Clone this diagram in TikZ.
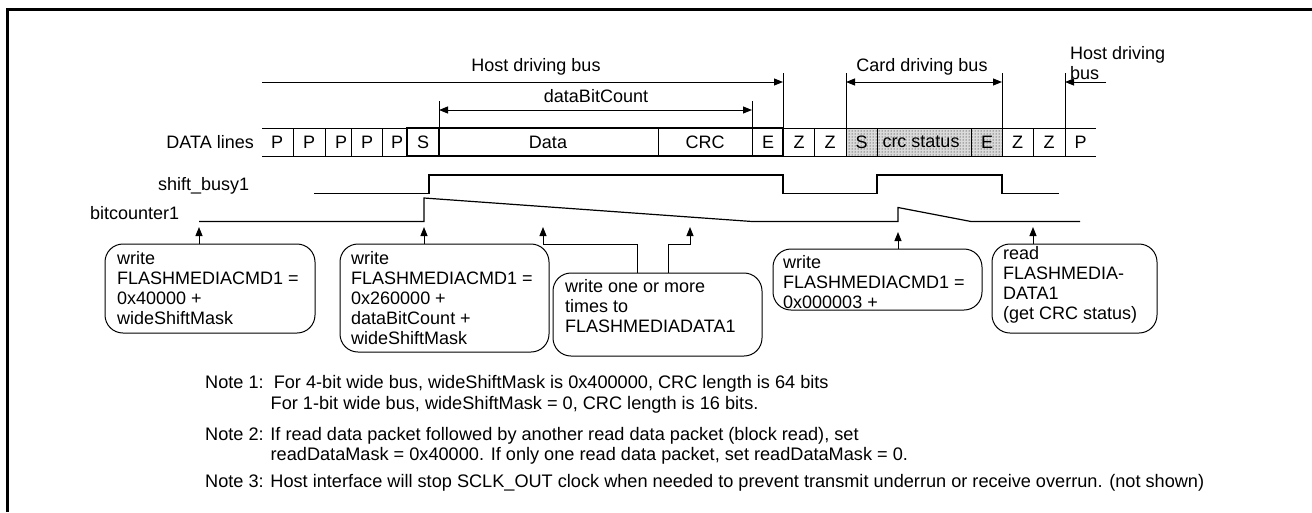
\documentclass[tikz,border=0pt]{standalone}
\usepackage{fontspec}
\setmainfont{Liberation Sans}
\usetikzlibrary{arrows.meta,patterns}
\tikzset{
  label text/.style={inner sep=0pt,font=\fontsize{18}{20}\selectfont},
  cell/.style={inner sep=0pt,font=\fontsize{18}{20}\selectfont},
  callout/.style={draw,line width=1pt,rounded corners=18pt},
  callout text/.style={inner sep=0pt,anchor=north west,align=left,font=\fontsize{18}{20}\selectfont},
  note text/.style={inner sep=0pt,anchor=base west,font=\fontsize{18.15}{20}\selectfont},
  wave/.style={line width=1.2pt},
  tick/.style={line width=1pt},
  flow/.style={line width=1pt,-{Triangle[length=9pt,width=7pt]}},
  span/.style={line width=1pt,{Triangle[length=9pt,width=7pt]}-{Triangle[length=9pt,width=7pt]}}
}
\begin{document}
\begin{tikzpicture}[x=1pt,y=-1pt]
\useasboundingbox (0,0) rectangle (1312,512);
\draw[line width=3pt] (7.5,512) -- (7.5,9.5) -- (1312,9.5);
% DATA lines row
\fill[black!14] (846,128) rectangle (1002,156);
\fill[pattern=dots,pattern color=black] (846,128) rectangle (1002,156);
\draw[line width=1pt] (262,128) -- (1096,128) (262,156) -- (1096,156);
\foreach \x in {293,325,351,382,407,439,658,752,783,814,846,877,971,1002,1033,1065}
  \draw[line width=1pt] (\x,128) -- (\x,156);
\draw[line width=2pt] (407,128) rectangle (783,156);
\draw[line width=2pt] (439,128) -- (439,156);
\node[label text,anchor=east] (datalines) at (254,142) {DATA lines};
\foreach \n/\x/\t in {p1/277/P,p2/309/P,p3/341/P,p4/367/P,p5/397/P,s1/423/S,data/548/Data,crc/705/CRC,e1/768/E,z1/799/Z,z2/830/Z,s2/861.5/S,status/921/crc status,e2/987/E,z3/1017.5/Z,z4/1049/Z,p6/1080.5/P}
  \node[cell] (\n) at (\x,142) {\t};
% spans
\coordinate (hostA) at (262,82);
\coordinate (hostB) at (783,82);
\draw[flow] (hostA) -- (hostB);
\node[label text] (hostbus) at (536,67) {Host driving bus};
\draw[tick] (783,73) -- (783,128);
\draw[tick] (439,101) -- (439,128);
\draw[tick] (752,101) -- (752,128);
\coordinate (bitA) at (439,110);
\coordinate (bitB) at (752,110);
\draw[span] (bitA) -- (bitB);
\node[label text] (bitcount) at (596,96) {dataBitCount};
\draw[tick] (846,73) -- (846,128);
\draw[tick] (1002,73) -- (1002,128);
\draw[tick] (1065,73) -- (1065,128);
\coordinate (cardA) at (846,82);
\coordinate (cardB) at (1002,82);
\draw[span] (cardA) -- (cardB);
\node[label text] (cardbus) at (922,67) {Card driving bus};
\coordinate (lastA) at (1106,82);
\coordinate (lastB) at (1065,82);
\draw[flow] (lastA) -- (lastB);
\node[label text,anchor=north west,align=left] (lastbus) at (1070,46) {Host driving\\bus};
% waves
\node[label text,anchor=west] (busy) at (158,186) {shift\_busy1};
\node[label text,anchor=west] (counter) at (90,213) {bitcounter1};
\draw[wave] (314,193.5) -- (429,193.5) -- (429,175) -- (783,175) -- (783,193.5) -- (877,193.5) -- (877,175) -- (1002,175) -- (1002,193.5) -- (1059,193.5);
\draw[wave] (199,221.5) -- (424,221.5) -- (424,198) -- (752,221.5) -- (898,221.5) -- (898,207.5) -- (971,221.5) -- (1080,221.5);
% callouts
\node[callout,minimum width=210pt,minimum height=89pt] (boxa) at (210,288.5) {};
\node[callout,minimum width=209pt,minimum height=108pt] (boxb) at (444.5,298) {};
\node[callout,minimum width=209pt,minimum height=83pt] (boxc) at (657.5,314.5) {};
\node[callout,minimum width=209pt,minimum height=61pt] (boxd) at (877.5,279.5) {};
\node[callout,minimum width=165pt,minimum height=89pt] (boxe) at (1074.5,288.5) {};
\node[callout text] (texta) at (117,251) {write\\FLASHMEDIACMD1 =\\0x40000 +\\wideShiftMask};
\node[callout text] (textb) at (351,251) {write\\FLASHMEDIACMD1 =\\0x260000 +\\dataBitCount +\\wideShiftMask};
\node[callout text] (textc) at (565,279) {write one or more\\times to\\FLASHMEDIADATA1};
\node[callout text] (textd) at (783,255) {write\\FLASHMEDIACMD1 =\\0x000003 +};
\node[callout text] (texte) at (1003,246) {read\\FLASHMEDIA-\\DATA1\\(get CRC status)};
\coordinate (tipa) at (199,227);
\coordinate (tipb) at (424,227);
\coordinate (tipc) at (543,227);
\coordinate (tipd) at (690,227);
\coordinate (tipe) at (898,232);
\coordinate (tipf) at (1033,227);
\draw[flow] (boxa.north -| tipa) -- (tipa);
\draw[flow] (boxb.north -| tipb) -- (tipb);
\draw[flow] (boxc.north -| 637,0) -- (637,244) -- (543,244) -- (tipc);
\draw[flow] (boxc.north -| 668,0) -- (668,244) -- (690,244) -- (tipd);
\draw[flow] (boxd.north -| tipe) -- (tipe);
\draw[flow] (boxe.north -| tipf) -- (tipf);
% notes
\node[note text] (note1a) at (205,388.5) {Note 1:\ \ For 4-bit wide bus, wideShiftMask is 0x400000, CRC length is 64 bits};
\node[note text] (note1b) at (270.5,409) {For 1-bit wide bus, wideShiftMask = 0, CRC length is 16 bits.};
\node[note text] (note2a) at (205,440) {Note 2: If read data packet followed by another read data packet (block read), set};
\node[note text] (note2b) at (270.5,460) {readDataMask = 0x40000. If only one read data packet, set readDataMask = 0.};
\node[note text] (note3) at (205,487) {Note 3: Host interface will stop SCLK\_OUT clock when needed to prevent transmit underrun or receive overrun. (not shown)};
\end{tikzpicture}
\end{document}
